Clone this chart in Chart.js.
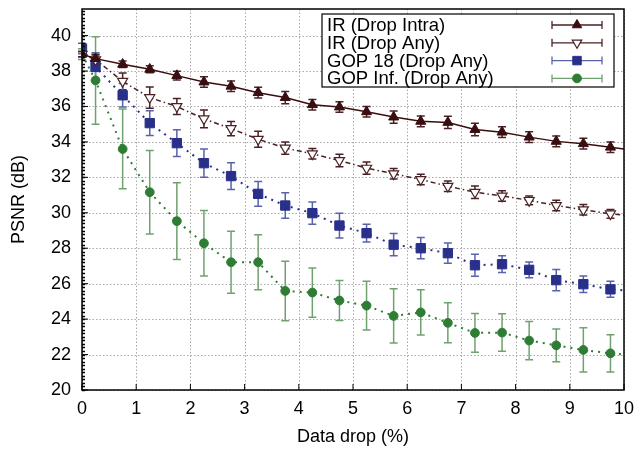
<!DOCTYPE html>
<html>
<head>
<meta charset="utf-8">
<script src="https://cdn.jsdelivr.net/npm/chart.js@4"></script>
<style>
  html, body { margin: 0; padding: 0; background: #fff; }
  #wrap { width: 638px; height: 452px; }
</style>
</head>
<body>
<div id="wrap"><canvas id="psnrChart" width="638" height="452"></canvas></div>
<script>
// x positions (data drop, %)
const dropPct = [0, 0.25, 0.75, 1.25, 1.75, 2.25, 2.75, 3.25, 3.75, 4.25, 4.75,
                 5.25, 5.75, 6.25, 6.75, 7.25, 7.75, 8.25, 8.75, 9.25, 9.75];

// IR (Drop Intra)
const irIntra    = [38.95, 38.7, 38.38, 38.1, 37.74, 37.38, 37.14, 36.78, 36.5, 36.1, 35.97,
                    35.7, 35.4, 35.16, 35.1, 34.7, 34.55, 34.27, 34.03, 33.9, 33.7];
const irIntraErr = [0.15, 0.2, 0.18, 0.2, 0.25, 0.3, 0.3, 0.3, 0.35, 0.3, 0.3,
                    0.3, 0.35, 0.3, 0.35, 0.35, 0.3, 0.3, 0.3, 0.3, 0.3];
const irIntraEnd = 33.6;

// IR (Drop Any)
const irAny    = [38.95, 38.64, 37.42, 36.5, 36.0, 35.3, 34.75, 34.15, 33.65, 33.33, 32.95,
                  32.52, 32.2, 31.88, 31.5, 31.16, 30.95, 30.7, 30.41, 30.17, 29.94];
const irAnyErr = [0.15, 0.3, 0.47, 0.6, 0.45, 0.5, 0.4, 0.45, 0.35, 0.3, 0.35,
                  0.35, 0.3, 0.3, 0.3, 0.35, 0.3, 0.25, 0.3, 0.3, 0.25];
const irAnyEnd = 29.87;

// GOP 18 (Drop Any)
const gop18    = [39.27, 38.23, 36.63, 35.06, 33.93, 32.8, 32.07, 31.07, 30.41, 29.98, 29.28,
                  28.85, 28.2, 28.0, 27.72, 27.04, 27.1, 26.78, 26.2, 25.97, 25.68];
const gop18Err = [0.3, 0.8, 0.66, 0.7, 0.75, 0.8, 0.75, 0.7, 0.72, 0.63, 0.7,
                  0.5, 0.63, 0.6, 0.57, 0.62, 0.47, 0.44, 0.6, 0.47, 0.45];
const gop18End = 25.62;

// GOP Inf. (Drop Any)
const gopInf    = [38.95, 37.47, 33.6, 31.16, 29.53, 28.28, 27.21, 27.21, 25.59, 25.5, 25.05,
                   24.76, 24.18, 24.38, 23.79, 23.22, 23.24, 22.79, 22.52, 22.26, 22.07];
const gopInfErr = [0.3, 2.47, 2.25, 2.35, 2.17, 1.85, 1.75, 1.55, 1.68, 1.39, 1.13,
                   1.37, 1.53, 1.28, 1.13, 1.09, 1.06, 1.08, 0.92, 1.25, 1.05];
const gopInfEnd = 22.0;

const xTicks = [0, 1, 2, 3, 4, 5, 6, 7, 8, 9, 10];
const yTicks = [20, 22, 24, 26, 28, 30, 32, 34, 36, 38, 40];

const FONT = "'Liberation Sans', Arial, Helvetica, sans-serif";
const n = dropPct.length;

function makeSeries(label, vals, errs, endVal, st) {
    const pts = dropPct.map((x, i) => ({ x: x, y: vals[i] }));
    pts.push({ x: 10, y: endVal });   // line runs on to the frame
    return {
        label: label,
        data: pts,
        errors: errs,
        errColor: st.errColor,
        borderColor: st.color,
        backgroundColor: st.fill,
        borderWidth: st.width,
        borderDash: st.dash,
        pointStyle: st.style,
        rotation: st.rotation || 0,
        pointRadius: c => c.dataIndex < n ? st.radius : 0,
        pointBorderWidth: st.pbw,
        pointBorderColor: st.color,
        pointBackgroundColor: st.fill,
        tension: 0,
        fill: false
    };
}

const datasets = [
    makeSeries("IR (Drop Intra)", irIntra, irIntraErr, irIntraEnd,
        { color: "#3a0d10", fill: "#3a0d10", errColor: "#4a2226", width: 1.5, dash: [],
          style: "triangle", radius: 5.8, pbw: 1 }),
    makeSeries("IR (Drop Any)", irAny, irAnyErr, irAnyEnd,
        { color: "#4a2224", fill: "#ffffff", errColor: "#4a2224", width: 1.5, dash: [5, 3, 1.5, 3],
          style: "triangle", rotation: 180, radius: 5.8, pbw: 1.2 }),
    makeSeries("GOP 18 (Drop Any)", gop18, gop18Err, gop18End,
        { color: "#29308a", fill: "#29308a", errColor: "#5a62ac", width: 2, dash: [2, 5],
          style: "rect", radius: 6.6, pbw: 1 }),
    makeSeries("GOP Inf. (Drop Any)", gopInf, gopInfErr, gopInfEnd,
        { color: "#2f7d35", fill: "#2f7d35", errColor: "#6fa26f", width: 2, dash: [2, 5],
          style: "circle", radius: 4.4, pbw: 1 })
];

// dotted grid, error bars, frame, ticks and the gnuplot-style legend
const extras = {
    id: "extras",
    beforeDatasetsDraw(chart) {
        const c = chart.ctx;
        const a = chart.chartArea;
        const xs = chart.scales.x, ys = chart.scales.y;
        c.save();
        // grid
        c.strokeStyle = "#a8a8a8";
        c.lineWidth = 1;
        c.setLineDash([1.5, 2]);
        c.beginPath();
        xTicks.forEach(v => {
            const px = Math.round(xs.getPixelForValue(v)) + 0.5;
            c.moveTo(px, a.top); c.lineTo(px, a.bottom);
        });
        yTicks.forEach(v => {
            const py = Math.round(ys.getPixelForValue(v)) + 0.5;
            c.moveTo(a.left, py); c.lineTo(a.right, py);
        });
        c.stroke();
        c.setLineDash([]);
        // error bars
        chart.data.datasets.forEach(ds => {
            c.strokeStyle = ds.errColor;
            c.lineWidth = 1.5;
            for (let i = 0; i < n; i++) {
                const px = xs.getPixelForValue(ds.data[i].x);
                const top = ys.getPixelForValue(ds.data[i].y + ds.errors[i]);
                const bot = ys.getPixelForValue(ds.data[i].y - ds.errors[i]);
                c.beginPath();
                c.moveTo(px, top); c.lineTo(px, bot);
                c.moveTo(px - 4, top); c.lineTo(px + 4, top);
                c.moveTo(px - 4, bot); c.lineTo(px + 4, bot);
                c.stroke();
            }
        });
        c.restore();
    },
    afterDraw(chart) {
        const c = chart.ctx;
        const a = chart.chartArea;
        const xs = chart.scales.x, ys = chart.scales.y;
        c.save();
        c.setLineDash([]);
        c.strokeStyle = "#000";
        c.lineWidth = 1.5;
        // minor + major ticks on the left axis
        c.beginPath();
        for (let v = 20; v <= 41.5 + 1e-6; v += 0.2) {
            const py = Math.round(ys.getPixelForValue(v)) + 0.5;
            c.moveTo(a.left, py);
            c.lineTo(a.left + 3, py);
        }
        c.stroke();
        c.lineWidth = 1;
        c.beginPath();
        yTicks.forEach(v => {
            const py = ys.getPixelForValue(v);
            c.moveTo(a.left, py); c.lineTo(a.left + 6, py);
        });
        xTicks.forEach(v => {
            const px = xs.getPixelForValue(v);
            c.moveTo(px, a.bottom); c.lineTo(px, a.bottom - 6);
        });
        c.stroke();
        // frame
        c.lineWidth = 1.5;
        c.strokeRect(a.left, a.top, a.right - a.left, a.bottom - a.top);

        // legend box
        const bx = 322, by = 14, bw = 292, bh = 73;
        c.fillStyle = "#fff";
        c.fillRect(bx, by, bw, bh);
        c.lineWidth = 1.2;
        c.strokeStyle = "#000";
        c.strokeRect(bx, by, bw, bh);
        c.font = "18.5px " + FONT;
        c.textBaseline = "middle";
        c.textAlign = "left";
        chart.data.datasets.forEach((ds, i) => {
            const ry = 25 + i * 17.8;
            c.fillStyle = "#000";
            c.fillText(ds.label, 327, ry + 1);
            c.strokeStyle = ds.errColor;
            c.lineWidth = 1.3;
            c.beginPath();
            c.moveTo(552, ry); c.lineTo(602, ry);
            c.moveTo(552, ry - 4); c.lineTo(552, ry + 4);
            c.moveTo(602, ry - 4); c.lineTo(602, ry + 4);
            c.stroke();
            c.fillStyle = ds.pointBackgroundColor;
            c.strokeStyle = ds.pointBorderColor;
            c.lineWidth = ds.pointBorderWidth;
            Chart.helpers.drawPoint(c, {
                pointStyle: ds.pointStyle,
                rotation: ds.rotation,
                radius: ds.pointStyle === "rect" ? 6 : (ds.pointStyle === "circle" ? 4.4 : 5.5),
                borderWidth: ds.pointBorderWidth
            }, 577, ry);
        });
        c.restore();
    }
};

const ctx = document.getElementById("psnrChart").getContext("2d");

new Chart(ctx, {
    type: "line",
    data: { datasets: datasets },
    plugins: [extras],
    options: {
        responsive: false,
        animation: false,
        layout: { padding: { top: 9, right: 14, bottom: 0, left: 0 } },
        plugins: { legend: { display: false }, tooltip: { enabled: false } },
        scales: {
            x: {
                type: "linear",
                min: 0, max: 10,
                afterBuildTicks: s => { s.ticks = xTicks.map(v => ({ value: v })); },
                afterFit: s => { s.height = 62; s.paddingLeft = 0; s.paddingRight = 0; },
                ticks: { color: "#000", padding: 8, font: { family: FONT, size: 18 } },
                grid: { drawTicks: false, color: "rgba(0,0,0,0)" },
                border: { display: false },
                title: {
                    display: true, text: "Data drop (%)", color: "#000",
                    font: { family: FONT, size: 18 }, padding: { top: 0, bottom: 4 }
                }
            },
            y: {
                type: "linear",
                min: 20, max: 41.5,
                afterBuildTicks: s => { s.ticks = yTicks.map(v => ({ value: v })); },
                afterFit: s => { s.width = 82; s.paddingTop = 0; s.paddingBottom = 0; },
                ticks: { color: "#000", padding: 11, font: { family: FONT, size: 18 } },
                grid: { drawTicks: false, color: "rgba(0,0,0,0)" },
                border: { display: false },
                title: {
                    display: true, text: "PSNR (dB)", color: "#000",
                    font: { family: FONT, size: 18 }, padding: { top: 8, bottom: 0 }
                }
            }
        }
    }
});
</script>
</body>
</html>
